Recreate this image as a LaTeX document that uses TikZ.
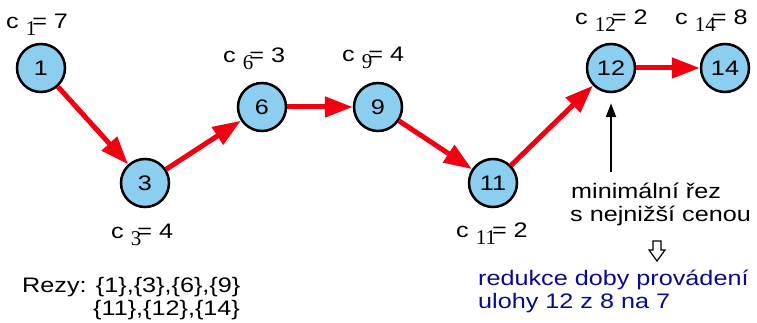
\documentclass[tikz,border=0pt]{standalone}
\usepackage{fontspec}
\setmainfont{Liberation Sans}[FakeStretch=1.2]
\newfontfamily\subserif{Liberation Serif}
\usetikzlibrary{arrows.meta}
\definecolor{nodeblue}{RGB}{140,206,240}
\definecolor{arrred}{RGB}{240,0,16}
\definecolor{navytext}{RGB}{10,10,140}
\newcommand{\clab}[2]{c {\subserif\fontsize{21pt}{21pt}\selectfont\raisebox{-7pt}{#1}}\hspace{-4pt}= #2}
\begin{document}
\begin{tikzpicture}[x=1pt,y=-1pt,
  task/.style={circle, draw=black, line width=2.5pt, fill=nodeblue, minimum size=48pt, inner sep=0pt, font=\fontsize{21pt}{23pt}\selectfont},
  flow/.style={draw=arrred, line width=5pt, -{Triangle[length=28pt,width=20pt]}},
  lab/.style={anchor=base west, inner sep=0pt, font=\fontsize{21pt}{23pt}\selectfont},
  bluelab/.style={lab, text=navytext},
  pointer/.style={draw=black, line width=2pt, -{Triangle[length=14pt,width=10pt]}, shorten >=10pt}
]
\useasboundingbox (0,0) rectangle (757,323);
% tasks
\node[task] (n1) at (41,68) {1};
\node[task] (n3) at (145,183) {3};
\node[task] (n6) at (262,107) {6};
\node[task] (n9) at (378,107) {9};
\node[task] (n11) at (493,183) {11};
\node[task] (n12) at (611,68) {12};
\node[task] (n14) at (725,68) {14};
% flows
\draw[flow] (n1) -- (n3);
\draw[flow] (n3) -- (n6);
\draw[flow] (n6) -- (n9);
\draw[flow] (n9) -- (n11);
\draw[flow] (n11) -- (n12);
\draw[flow] (n12) -- (n14);
% cost labels
\node[lab] (c1) at (6,29) {\clab{1}{7}};
\node[lab] (c6) at (223,63) {\clab{6}{3}};
\node[lab] (c9) at (342,62) {\clab{9}{4}};
\node[lab] (c12) at (575,25) {\clab{12}{2}};
\node[lab] (c14) at (675,25) {\clab{14}{8}};
\node[lab] (c3) at (111,238) {\clab{3}{4}};
\node[lab] (c11) at (456,237) {\clab{11}{2}};
% cuts
\node[lab] (rz1) at (22,292) {Rezy: \{1\},\{3\},\{6\},\{9\}};
\node[lab] (rz2) at (93,315) {\{11\},\{12\},\{14\}};
% minimal cut
\coordinate (cutbase) at (611,172);
\draw[pointer] (cutbase) -- (n12);
\node[lab] (mc1) at (571,198) {minimální řez};
\node[lab] (mc2) at (570,221) {s nejnižší cenou};
\draw[line width=1.2pt, fill=white, line join=miter] (653,241) -- (661,241) -- (661,250) -- (665,250) -- (657,261) -- (649,250) -- (653,250) -- cycle;
\node[bluelab] (rd1) at (478,285) {redukce doby provádení};
\node[bluelab] (rd2) at (478,308) {ulohy 12 z 8 na 7};
\end{tikzpicture}
\end{document}
